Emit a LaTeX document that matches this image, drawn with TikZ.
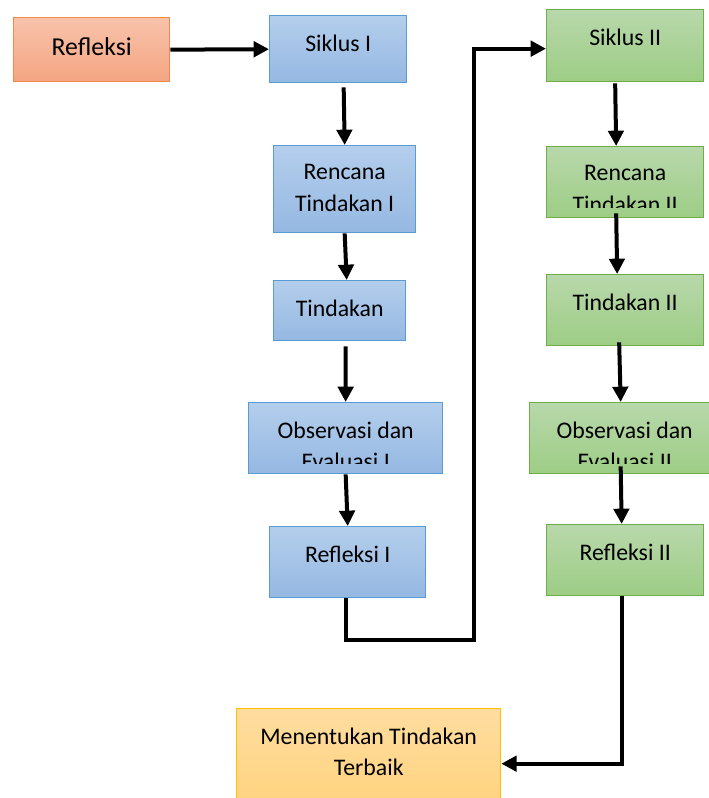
\documentclass[tikz,border=0pt]{standalone}
\usepackage{fontspec}
\setmainfont{Carlito}
\usetikzlibrary{arrows.meta,calc}

\definecolor{orangeline}{HTML}{F08A4B}
\definecolor{orangetop}{HTML}{F8C3AB}
\definecolor{orangebot}{HTML}{F4A582}
\definecolor{blueline}{HTML}{5B9BD5}
\definecolor{bluetop}{HTML}{B4CEEC}
\definecolor{bluebot}{HTML}{95B8E2}
\definecolor{greenline}{HTML}{70AD47}
\definecolor{greentop}{HTML}{B8D8AB}
\definecolor{greenbot}{HTML}{9DCD85}
\definecolor{yellowline}{HTML}{FFC000}
\definecolor{yellowtop}{HTML}{FFDDA0}
\definecolor{yellowbot}{HTML}{FFD27A}

\begin{document}
\begin{tikzpicture}[x=0.03cm,y=-0.03cm,
  txt/.style={font=\fontsize{20.3}{27}\selectfont,align=center,inner sep=0pt,anchor=north,
    minimum width=0pt,minimum height=0pt,draw=none,fill=none,shade=false},
  box/.style={draw,line width=0.04cm,anchor=north west,inner sep=0pt},
  boxtext/.style={path picture={
    \clip (path picture bounding box.north west) rectangle ([yshift=0.3cm]path picture bounding box.south east);
    \node[txt] at ([yshift=-0.55cm]path picture bounding box.north) {#1};}},
  reftext/.style={path picture={\node[txt,font=\fontsize{22}{27}\selectfont] at ([yshift=-0.59cm]path picture bounding box.north) {#1};}},
  orangebox/.style={box,draw=orangeline,top color=orangetop,bottom color=orangebot},
  bluebox/.style={box,draw=blueline,top color=bluetop,bottom color=bluebot},
  greenbox/.style={box,draw=greenline,top color=greentop,bottom color=greenbot},
  yellowbox/.style={box,draw=yellowline,top color=yellowtop,bottom color=yellowbot},
  arr/.style={line width=0.12cm,-{Triangle[length=0.46cm,width=0.46cm]}}]
\clip (0,0) rectangle (709,798);

% starting reflection
\node[orangebox,reftext=Refleksi,minimum width=4.68cm,minimum height=1.92cm] (ref) at (13,17) {};

% first cycle
\node[bluebox,boxtext=Siklus I,minimum width=4.11cm,minimum height=2.01cm] (s1) at (269,15) {};
\node[bluebox,boxtext={Rencana\\Tindakan I},minimum width=4.26cm,minimum height=2.61cm] (rt1) at (273,145) {};
\node[bluebox,boxtext=Tindakan,minimum width=3.96cm,minimum height=1.80cm] (t1) at (273,280) {};
\node[bluebox,boxtext={Observasi dan\\Evaluasi I},minimum width=5.82cm,minimum height=2.13cm] (oe1) at (248,402) {};
\node[bluebox,boxtext=Refleksi I,minimum width=4.68cm,minimum height=2.13cm] (r1) at (269,526) {};

% second cycle
\node[greenbox,boxtext=Siklus II,minimum width=4.71cm,minimum height=2.16cm] (s2) at (546,9) {};
\node[greenbox,boxtext={Rencana\\Tindakan II},minimum width=4.71cm,minimum height=2.13cm] (rt2) at (546,146) {};
\node[greenbox,boxtext=Tindakan II,minimum width=4.71cm,minimum height=2.13cm] (t2) at (546,274) {};
\node[greenbox,boxtext={Observasi dan\\Evaluasi II},minimum width=5.70cm,minimum height=2.13cm] (oe2) at (529,402) {};
\node[greenbox,boxtext=Refleksi II,minimum width=4.71cm,minimum height=2.13cm] (r2) at (546,524) {};

% result
\node[yellowbox,boxtext={Menentukan Tindakan\\Terbaik},minimum width=7.92cm,minimum height=3.30cm] (mt) at (236,708) {};

% arrows of the first cycle
\draw[arr] (ref.east) -- (s1.west);
\draw[arr] ($(s1.south)+(5.5,4)$) -- (rt1.north);
\draw[arr] (rt1.south) -- ($(t1.north)+(7,0)$);
\draw[arr] ($(t1.south)+(6,5)$) -- (oe1.north);
\draw[arr] (oe1.south) -- (r1.north);

% link to the second cycle
\draw[arr] ($(r1.south)+(-2,0)$) -- ++(0,42) -- ++(128,0) |- ($(s2.west)+(0,3)$);

% arrows of the second cycle
\draw[arr] ($(s2.south)+(-10,1)$) -- ($(rt2.north)+(-9,0)$);
\draw[arr] ($(rt2.south)+(-9,-5)$) -- ($(t2.north)+(-8,0)$);
\draw[arr] ($(t2.south)+(-6,-4)$) -- ($(oe2.north)+(-4,0)$);
\draw[arr] ($(oe2.south)+(-4,-8)$) -- ($(r2.north)+(-3.5,0)$);
\draw[arr] ($(r2.south)+(-3.5,0)$) |- (mt.east);
\end{tikzpicture}
\end{document}
